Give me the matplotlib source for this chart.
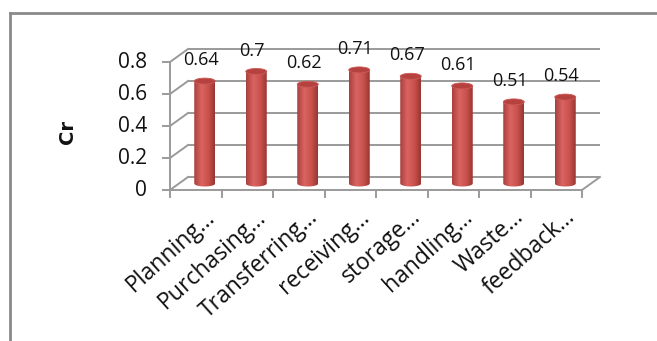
import numpy as np
import matplotlib
matplotlib.use('Agg')
import matplotlib.pyplot as plt
from matplotlib.path import Path
from matplotlib.patches import Ellipse
from matplotlib.colors import LinearSegmentedColormap
from matplotlib.lines import Line2D

plt.rcParams['font.family'] = ['Open Sans', 'DejaVu Sans']

# data
categories = ['Planning…', 'Purchasing…', 'Transferring…', 'receiving…',
              'storage…', 'handling…', 'Waste…', 'feedback…']
values = [0.64, 0.70, 0.62, 0.71, 0.67, 0.61, 0.51, 0.54]
value_labels = ['0.64', '0.7', '0.62', '0.71', '0.67', '0.61', '0.51', '0.54']
y_ticks = [0, 0.2, 0.4, 0.6, 0.8]
y_tick_labels = ['0', '0.2', '0.4', '0.6', '0.8']
y_label = 'Cr'

W, H = 657, 341
fig = plt.figure(figsize=(W / 100, H / 100), dpi=100)
ax = fig.add_axes([0, 0, 1, 1])

# pixel scale of the plot: x0 at px 170, one category = 51.5 px; y0 at px 190, one unit = 160 px
sx, sy = 51.5, 160.0
x0_px, y0_px = 170, 190
ax.set_xlim(-x0_px / sx, (W - x0_px) / sx)
ax.set_ylim((y0_px - H) / sy, y0_px / sy)
ax.axis('off')

n = len(categories)
ymax = y_ticks[-1]
DX, DY = 18 / sx, 13 / sy
grid_c = '#9a9a9a'
lw = 1.4
txt_c = '#111111'

# walls: gridlines on back wall and left side wall
for v in y_ticks:
    ax.plot([DX, n + DX], [v + DY, v + DY], color=grid_c, lw=lw, zorder=1, solid_capstyle='butt')
    ax.plot([0, DX], [v, v + DY], color=grid_c, lw=lw, zorder=1)
    ax.plot([-7 / sx, 0], [v, v], color=grid_c, lw=lw, zorder=1)
# floor
ax.plot([0, n], [0, 0], color=grid_c, lw=lw, zorder=4)
ax.plot([n, n + DX], [0, DY], color=grid_c, lw=lw, zorder=1)
ax.plot([0, 0], [0, ymax], color=grid_c, lw=lw, zorder=4)
for i in range(n + 1):
    ax.plot([i, i], [0, -7 / sy], color=grid_c, lw=lw, zorder=4)

# cylinders
cmap = LinearSegmentedColormap.from_list(
    'cyl', [(0, '#a83f3c'), (0.35, '#da6461'), (0.7, '#c8514d'), (1, '#983532')])
grad = np.linspace(0, 1, 128).reshape(1, -1)
bw = 21 / sx
eh = 6 / sy
base = DY / 2
for i, v in enumerate(values):
    cx = i + 0.5 + DX / 2
    xl, xr = cx - bw / 2, cx + bw / 2
    top = v + base
    t = np.linspace(np.pi, 2 * np.pi, 30)
    pts = [(xl, top), (xl, base)]
    pts += list(zip(cx + bw / 2 * np.cos(t), base + eh / 2 * np.sin(t)))
    pts += [(xr, base), (xr, top), (xl, top)]
    clip = Path(pts, closed=True)
    im = ax.imshow(grad, cmap=cmap, aspect='auto', zorder=3,
                   extent=(xl, xr, base - eh / 2, top), interpolation='bilinear')
    im.set_clip_path(clip, ax.transData)
    ax.add_patch(Ellipse((cx, top), bw, eh, facecolor='#b5423f',
                         edgecolor='#cf5a57', lw=0.6, zorder=3.5))
    ax.text(cx - 4 / sx, top + 21 / sy, value_labels[i], ha='center', va='center',
            fontsize=13, color=txt_c, zorder=5)

# axis labels
for v, lab in zip(y_ticks, y_tick_labels):
    ax.text(-23 / sx, v, lab, ha='right', va='center', fontsize=15, color=txt_c)
ax.text(-103 / sx, 0.3625, y_label, rotation=90, ha='center', va='center',
        fontsize=14, fontweight='bold', color=txt_c, family='DejaVu Sans')
for i, lab in enumerate(categories):
    ax.text(i + 0.5 + 8 / sx, -15 / sy, lab, rotation=42, ha='right', va='top',
            rotation_mode='anchor', fontsize=16.5, color=txt_c)

# outer chart border
fig.add_artist(Line2D([9.5 / W, 9.5 / W], [0, 1 - 12.5 / H], color='#8a8a8a', lw=2))
fig.add_artist(Line2D([9.5 / W, 1], [1 - 12.5 / H, 1 - 12.5 / H], color='#8a8a8a', lw=2))

fig.savefig('out.png', dpi=100)
